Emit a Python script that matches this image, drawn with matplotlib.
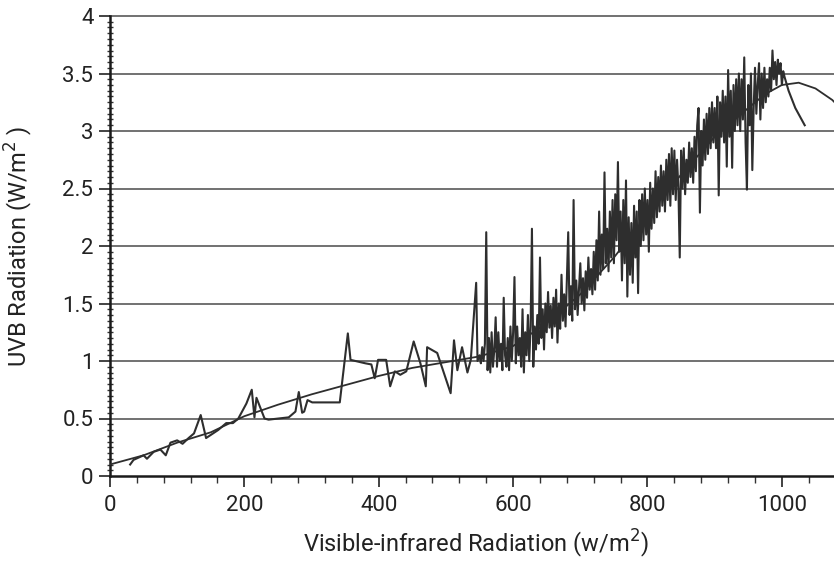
import matplotlib
matplotlib.use("Agg")
import matplotlib.pyplot as plt
from matplotlib.ticker import MultipleLocator, FuncFormatter

plt.rcParams['font.family'] = ['Roboto', 'DejaVu Sans']

# measured series (visible-infrared vs UVB)
vis_sparse = [30, 35, 50, 55, 65, 75, 83, 90, 100, 108, 117, 125, 135, 143, 161, 173, 183, 191,
              203, 211, 215, 218, 230, 236, 266, 276, 281, 286, 289, 294, 301, 342, 354, 358,
              380, 389, 394, 399, 411, 417, 424, 432, 441, 452, 462, 470, 472, 487, 507, 512,
              517, 524, 532, 537, 545, 547]
uvb_sparse = [0.10, 0.14, 0.18, 0.15, 0.21, 0.23, 0.18, 0.29, 0.31, 0.28, 0.33, 0.37, 0.53, 0.33, 0.40, 0.46, 0.46, 0.50,
              0.63, 0.75, 0.51, 0.68, 0.50, 0.49, 0.51, 0.56, 0.73, 0.55, 0.56, 0.66, 0.64, 0.64, 1.24, 1.01,
              0.98, 0.97, 0.85, 1.01, 1.01, 0.78, 0.91, 0.88, 0.91, 1.17, 0.98, 0.78, 1.12, 1.07, 0.72, 1.18,
              0.92, 1.12, 0.90, 1.01, 1.68, 1.00]

# dense part, one reading every 2 W/m2 from 550 to 1004
vis_dense = list(range(550, 1005, 2))
uvb_dense = [
    1.05, 0.98, 1.12, 1.00, 1.15, 2.12, 0.92, 1.20, 0.90, 1.25,
    0.95, 1.10, 1.38, 0.95, 1.25, 1.00, 1.15, 0.92, 1.55, 1.05,
    0.95, 1.20, 0.92, 1.30, 1.00, 1.25, 1.73, 0.98, 1.30, 1.05,
    1.20, 0.95, 1.45, 0.90, 1.25, 1.05, 1.40, 1.00, 1.30, 2.15,
    0.95, 1.30, 1.10, 1.40, 1.15,
    1.90, 1.20, 1.45, 1.10, 1.50, 1.25, 1.60, 1.29, 1.48, 1.20,
    1.55, 1.30, 1.62, 1.16, 1.50, 1.28, 1.75, 1.35, 1.58, 1.30,
    1.70, 2.12, 1.40, 1.65, 1.35, 2.40, 1.45, 1.70, 1.40, 1.62,
    1.85, 1.50, 1.72, 1.44, 1.78, 1.55, 1.90, 1.62, 1.80, 1.58,
    1.95, 1.62, 2.05, 1.70, 2.30, 1.75, 2.10, 1.80, 2.64, 1.85,
    2.15, 1.78, 2.30, 1.90, 2.40, 1.85, 2.45, 2.05, 2.73, 1.95,
    2.30, 1.70, 2.40, 1.85, 2.57, 1.56, 2.25, 1.75, 2.20, 1.68,
    2.35, 1.90, 2.30, 1.59, 2.40, 2.00, 2.45, 2.05, 2.50, 2.10,
    2.40, 1.95, 2.55, 2.15, 2.50, 2.20, 2.65, 2.25, 2.60, 2.30,
    2.70, 2.35, 2.65, 2.30, 2.75, 2.40, 2.80, 2.35, 2.85, 2.45,
    2.83, 2.40, 2.75, 2.50, 1.90, 2.83, 2.50, 2.85, 2.45, 2.75,
    2.55, 2.90, 2.60, 2.85, 2.55, 2.95, 2.65, 3.05, 3.20, 2.29,
    3.00, 2.70, 3.10, 2.75, 3.15, 2.80, 3.20, 2.85, 3.25, 2.90,
    3.20, 2.85, 3.30, 2.44, 3.25, 2.95, 3.35, 2.90, 3.30, 2.69,
    3.53, 2.95, 3.35, 2.68, 3.40, 3.00, 3.45, 3.05, 3.50, 3.00,
    3.45, 3.10, 3.64, 2.90, 2.49, 3.40, 3.05, 3.50, 2.66, 3.20,
    3.55, 3.15, 3.40, 3.59, 3.10, 3.50, 3.20, 3.55, 3.25, 3.45,
    3.30, 3.55, 3.35, 3.70, 3.45, 3.60, 3.40, 3.62, 3.50, 3.59,
    3.40, 3.52, 3.47]
vis_tail = [1010, 1020, 1034]
uvb_tail = [3.35, 3.20, 3.05]

vis = vis_sparse + vis_dense + vis_tail
uvb = uvb_sparse + uvb_dense + uvb_tail

# fitted trend curve
fit_x = [0, 50, 100, 150, 200, 250, 300, 350, 400, 450, 500, 550, 600, 650, 700, 750,
         800, 850, 900, 950, 975, 1000, 1025, 1050, 1075, 1100]
fit_y = [0.10, 0.18, 0.29, 0.38, 0.52, 0.62, 0.71, 0.79, 0.87, 0.94, 0.99, 1.04, 1.13, 1.33, 1.58, 1.90,
         2.27, 2.62, 2.95, 3.20, 3.32, 3.40, 3.42, 3.37, 3.27, 3.12]

xticks = [0, 200, 400, 600, 800, 1000]
yticks = [0, 0.5, 1, 1.5, 2, 2.5, 3, 3.5, 4]

fig = plt.figure(figsize=(8.34, 5.65), dpi=100)
ax = fig.add_axes([110/834, 1 - 476/565, 1 - 110/834 + 0.01, (476 - 16)/565])
ax.set_xlim(0, 1090)
ax.set_ylim(0, 4)

for y in yticks[1:]:
    ax.axhline(y, color='#4a4a4a', lw=1.1, zorder=1, clip_on=False)

ax.plot(vis, uvb, color='#2e2e2e', lw=1.5, zorder=3)
ax.plot(fit_x, fit_y, color='#2e2e2e', lw=1.3, zorder=3)

ax.set_xticks(xticks)
ax.set_yticks(yticks)
ax.xaxis.set_minor_locator(MultipleLocator(40))
ax.yaxis.set_minor_locator(MultipleLocator(0.05))
ax.yaxis.set_major_formatter(FuncFormatter(lambda v, p: ('%g' % v)))
ax.tick_params(axis='both', which='major', labelsize=16, color='#222222', width=1.2, length=8, direction='out', pad=4)
ax.tick_params(axis='x', which='major', pad=6)
ax.tick_params(axis='both', which='minor', color='#333333', width=1.0, length=5, direction='out')
ax.tick_params(axis='y', which='minor', length=4, direction='inout')

for s in ['top', 'right']:
    ax.spines[s].set_visible(False)
for s in ['left', 'bottom']:
    ax.spines[s].set_linewidth(1.8)
    ax.spines[s].set_color('#1a1a1a')

ax.set_xlabel('Visible-infrared Radiation (w/m$^2$)', fontsize=17, color='#222222', labelpad=8)
ax.set_ylabel('UVB Radiation (W/m$^2$ )', fontsize=17, color='#222222', labelpad=20)
for t in ax.get_xticklabels() + ax.get_yticklabels():
    t.set_color('#222222')

fig.savefig('out.png', dpi=100, facecolor='white')
